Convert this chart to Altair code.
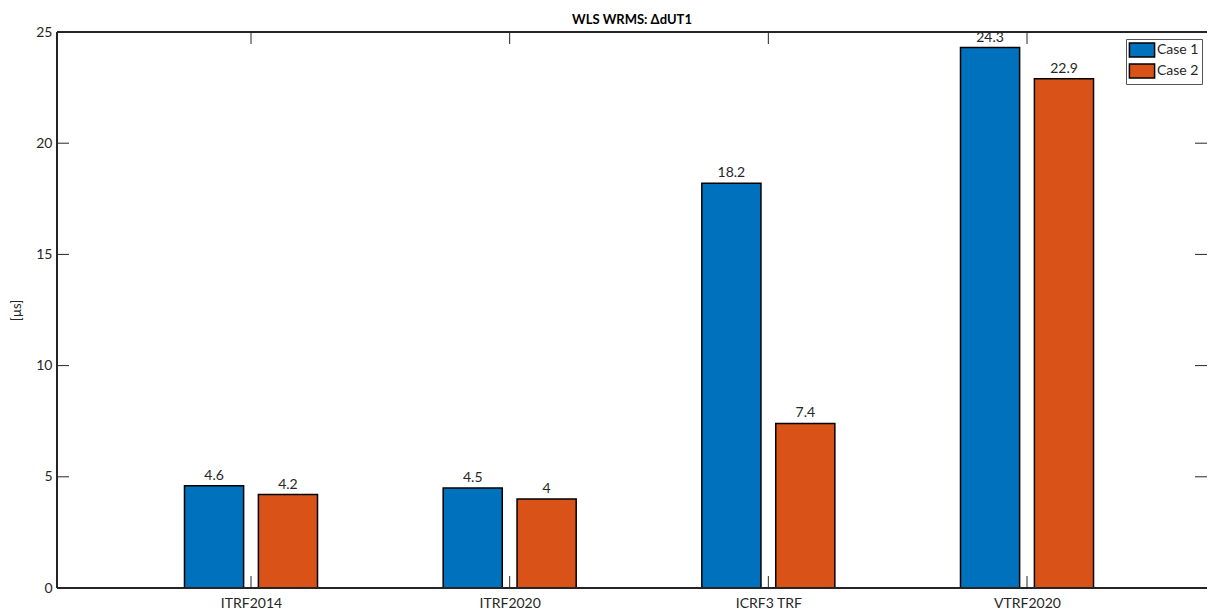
import json
import altair as alt
import pandas as pd

categories = ["ITRF2014", "ITRF2020", "ICRF3 TRF", "VTRF2020"]
series = ["Case 1", "Case 2"]
case1 = [4.6, 4.5, 18.2, 24.3]
case2 = [4.2, 4.0, 7.4, 22.9]
colors = ["#0072BD", "#D95319"]
y_ticks = [0, 5, 10, 15, 20, 25]
x_ticks = [1, 2, 3, 4]

rows = []
for i, c in enumerate(categories):
    rows.append({"cat": c, "pos": i + 1, "series": series[0], "value": case1[i]})
    rows.append({"cat": c, "pos": i + 1, "series": series[1], "value": case2[i]})
df = pd.DataFrame(rows)

W, H = 1150, 556
FONT = "Lato"
TXT = "#262626"

xscale = alt.Scale(domain=[0.25, 0.25 + W / 258.67], nice=False, zero=False)
yscale = alt.Scale(domain=[0, 25], nice=False)

label_expr = json.dumps(categories) + "[datum.value - 1]"
x_axis = alt.Axis(values=x_ticks, labelExpr=label_expr, ticks=False, domain=False,
                  grid=False, labelFontSize=14, labelColor=TXT, labelFont=FONT,
                  labelPadding=8, title=None)
y_axis = alt.Axis(values=y_ticks, ticks=False, domain=False, grid=False,
                  labelFontSize=14, labelColor=TXT, labelFont=FONT, labelPadding=5,
                  title="[µs]", titleFontSize=13, titleFontWeight="normal",
                  titleColor=TXT, titleFont=FONT, titlePadding=12)

base = alt.Chart(df).transform_calculate(
    xc=f"datum.pos + (datum.series == '{series[0]}' ? -0.142857 : 0.142857)"
).transform_calculate(
    x0="datum.xc - 0.114286", x1="datum.xc + 0.114286"
)

bars = base.mark_rect(stroke="black", strokeWidth=1.5).encode(
    x=alt.X("x0:Q", scale=xscale, axis=x_axis, title=None),
    x2="x1:Q",
    y=alt.Y("value:Q", scale=yscale, axis=y_axis, title="[µs]"),
    y2=alt.datum(0),
    color=alt.Color("series:N", scale=alt.Scale(domain=series, range=colors),
                    legend=alt.Legend(title=None, orient="none", legendX=1069, legendY=7,
                                      symbolType="M-1.8,-1H1.8V1H-1.8Z", symbolSize=196,
                                      symbolOffset=5, symbolStrokeColor="black",
                                      symbolStrokeWidth=1.5, symbolOpacity=1,
                                      labelFontSize=14, labelFont=FONT, labelColor=TXT,
                                      strokeColor="#555", fillColor="white",
                                      padding=3, rowPadding=1, labelOffset=7)),
)

texts = base.mark_text(baseline="bottom", dy=-3, fontSize=14, font=FONT, color=TXT).encode(
    x=alt.X("xc:Q", scale=xscale, axis=x_axis, title=None),
    y=alt.Y("value:Q", scale=yscale, axis=y_axis, title="[µs]"),
    text=alt.Text("value:Q"),
)

ydf = pd.DataFrame({"t": y_ticks})
xdf = pd.DataFrame({"t": x_ticks})
TL = 12
rule = dict(color=TXT, strokeWidth=1)
lt = alt.Chart(ydf).mark_rule(**rule).encode(
    y=alt.Y("t:Q", scale=yscale, axis=y_axis, title="[µs]"), x=alt.value(0), x2=alt.value(TL))
rt = alt.Chart(ydf).mark_rule(**rule).encode(
    y=alt.Y("t:Q", scale=yscale, axis=y_axis, title="[µs]"), x=alt.value(W - TL), x2=alt.value(W))
bt = alt.Chart(xdf).mark_rule(**rule).encode(
    x=alt.X("t:Q", scale=xscale, axis=x_axis, title=None), y=alt.value(H - TL), y2=alt.value(H))
tt = alt.Chart(xdf).mark_rule(**rule).encode(
    x=alt.X("t:Q", scale=xscale, axis=x_axis, title=None), y=alt.value(0), y2=alt.value(TL))

# frame (left, top, bottom; right side lies outside the picture in the reference)
frame_l = alt.Chart(ydf).mark_rule(color=TXT, strokeWidth=1.3).encode(
    x=alt.value(0), y=alt.value(0), y2=alt.value(H))
frame_t = alt.Chart(ydf).mark_rule(color=TXT, strokeWidth=1.3).encode(
    x=alt.value(0), x2=alt.value(W), y=alt.value(0))
frame_b = alt.Chart(ydf).mark_rule(color=TXT, strokeWidth=1.3).encode(
    x=alt.value(0), x2=alt.value(W), y=alt.value(H))

chart = alt.layer(bars, texts, lt, rt, bt, tt, frame_l, frame_t, frame_b).properties(
    width=W, height=H,
    title=alt.TitleParams("WLS WRMS: ΔdUT1", fontSize=13, fontWeight="bold", font=FONT,
                          color="black", offset=-2, anchor="middle", frame="group"),
    autosize=alt.AutoSizeParams(type="none"),
    padding={"left": 49, "top": 24, "right": 0, "bottom": 24},
).configure_view(stroke=None)

chart.save("out.html", embed_options={"renderer": "svg", "actions": False})
